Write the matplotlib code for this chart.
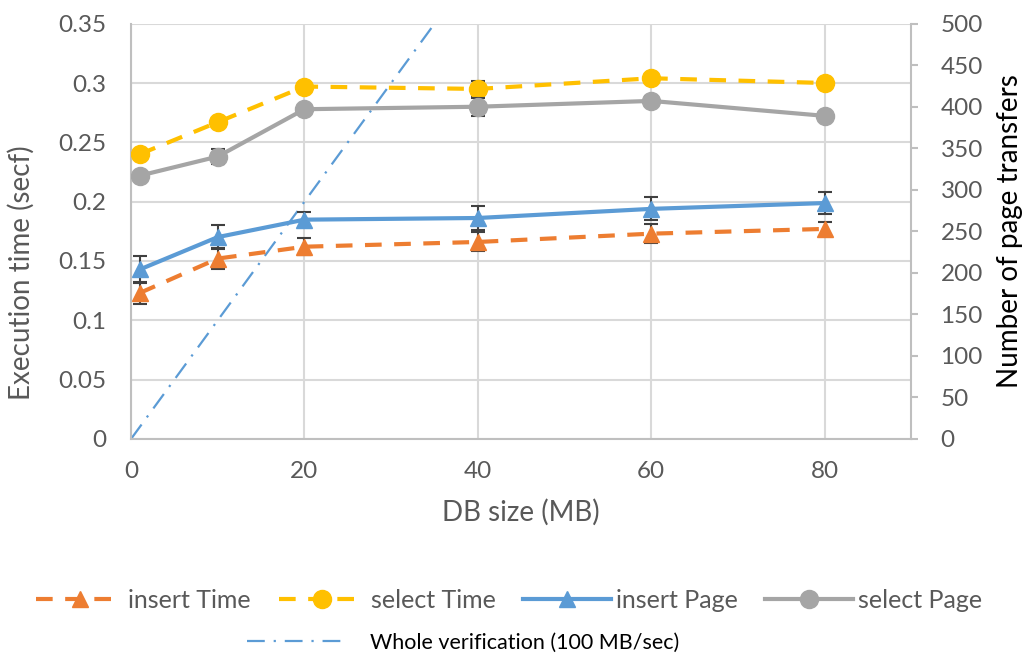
import matplotlib.pyplot as plt
from matplotlib.lines import Line2D

plt.rcParams['font.family'] = ['Lato', 'DejaVu Sans']

# DB sizes (MB)
db_size = [1, 10, 20, 40, 60, 80]

# execution time (sec), left axis
insert_time = [0.123, 0.152, 0.162, 0.166, 0.173, 0.177]
insert_time_err = [0.009, 0.009, 0.007, 0.008, 0.008, 0.006]
select_time = [0.240, 0.267, 0.297, 0.295, 0.304, 0.300]
select_time_err = [0.002, 0.002, 0.002, 0.007, 0.003, 0.003]

# page transfers, right axis
insert_page = [204, 243, 264, 266, 277, 284]
insert_page_err = [16, 14, 9, 14, 14, 13]
select_page = [317, 340, 397, 400, 407, 389]
select_page_err = [0, 9, 0, 11, 6, 0]

# whole verification at 100 MB/sec
verify_size = [0, 40]
verify_time = [0.0, 0.40]

orange = '#ED7D31'
yellow = '#FFC000'
blue = '#5B9BD5'
gray = '#A5A5A5'
err_col = '#404040'
txt = '#595959'
dash = (0, (4, 3))
vdash = (0, (8, 4, 1, 4))

fig = plt.figure(figsize=(10.24, 6.58), dpi=100)
ax = fig.add_axes([0.128, 0.333, 0.762, 0.631])
ax2 = ax.twinx()

ax.plot(verify_size, verify_time, color=blue, lw=1.6, linestyle=vdash, zorder=2)

eb = dict(ecolor=err_col, elinewidth=1.5, capsize=5, capthick=1.5)
ax.errorbar(db_size, insert_time, yerr=insert_time_err, color=orange, lw=3,
            linestyle=dash, marker='^', markersize=12, zorder=3, **eb)
ax.errorbar(db_size, select_time, yerr=select_time_err, color=yellow, lw=3,
            linestyle=dash, marker='o', markersize=13, zorder=3, **eb)
ax2.errorbar(db_size, insert_page, yerr=insert_page_err, color=blue, lw=3,
             marker='^', markersize=12, **eb)
ax2.errorbar(db_size, select_page, yerr=select_page_err, color=gray, lw=3,
             marker='o', markersize=13, **eb)

ax.set_xlim(0, 90)
ax.set_ylim(0, 0.35)
ax2.set_ylim(0, 500)
ax.set_xticks([0, 20, 40, 60, 80])
ax.set_yticks([0, 0.05, 0.1, 0.15, 0.2, 0.25, 0.3, 0.35])
ax.set_yticklabels(['0', '0.05', '0.1', '0.15', '0.2', '0.25', '0.3', '0.35'])
ax2.set_yticks(range(0, 501, 50))

ax.grid(True, color='#D9D9D9', lw=1.5)
ax.set_axisbelow(True)

for a in (ax, ax2):
    for s in a.spines.values():
        s.set_visible(False)
for a, side in ((ax, 'left'), (ax, 'bottom'), (ax2, 'right')):
    a.spines[side].set_visible(True)
    a.spines[side].set_color('#BFBFBF')
    a.spines[side].set_linewidth(1.5)

ax.tick_params(axis='y', length=0, labelsize=17.5, labelcolor=txt, pad=18)
ax.tick_params(axis='x', length=0, labelsize=17.5, labelcolor=txt, pad=16)
ax2.tick_params(axis='y', length=5, width=1.5, color='#BFBFBF', labelsize=17.5,
                labelcolor=txt, pad=16)

ax.set_xlabel('DB size (MB)', fontsize=20, color=txt, labelpad=12)
ax.set_ylabel('Execution time (secf)', fontsize=20, color=txt)
ax.yaxis.set_label_coords(-0.124, 0.40)
ax2.set_ylabel('Number of page transfers', fontsize=20, color='black', labelpad=10)

handles = [
    Line2D([], [], color=orange, lw=3, linestyle=dash, marker='^', markersize=12),
    Line2D([], [], color=yellow, lw=3, linestyle=dash, marker='o', markersize=13),
    Line2D([], [], color=blue, lw=3, marker='^', markersize=12),
    Line2D([], [], color=gray, lw=3, marker='o', markersize=13),
]
labels = ['insert Time', 'select Time', 'insert Page', 'select Page']
fig.legend(handles, labels, loc='center', ncol=4,
           bbox_to_anchor=(0.497, 0.088), frameon=False, fontsize=18,
           labelcolor=txt, handlelength=3.5, columnspacing=1.1, handletextpad=0.2)
fig.legend([Line2D([], [], color=blue, lw=1.6, linestyle=vdash)],
           ['Whole verification (100 MB/sec)'], loc='center',
           bbox_to_anchor=(0.4526, 0.023), frameon=False, fontsize=15.5,
           handlelength=4.6, handletextpad=1.1)

fig.savefig('out.png', dpi=100)
